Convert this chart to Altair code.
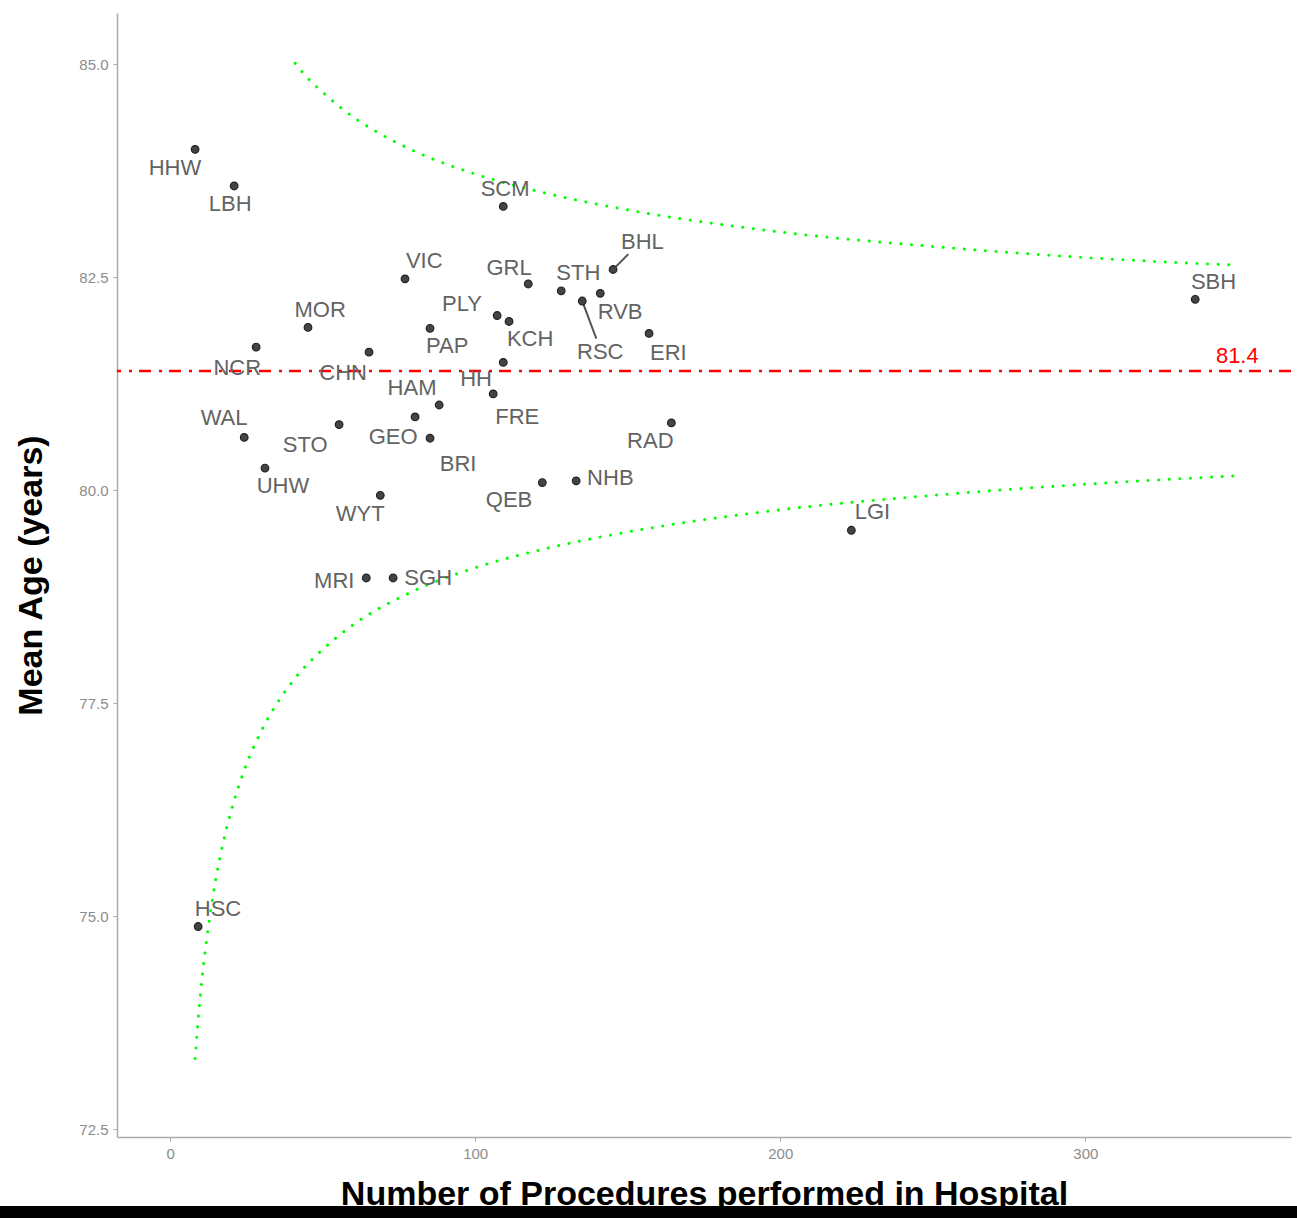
import altair as alt
import pandas as pd

# Hospital codes, procedure counts and mean patient age
codes = ["HHW", "LBH", "SCM", "BHL", "SBH", "VIC", "GRL", "STH", "RVB", "RSC",
         "MOR", "PAP", "PLY", "KCH", "ERI", "NCR", "CHN", "HH", "FRE", "HAM",
         "GEO", "BRI", "STO", "WAL", "RAD", "UHW", "WYT", "QEB", "NHB", "LGI",
         "MRI", "SGH", "HSC"]
procedures = [8.2, 21, 109.2, 145.2, 336, 77, 117.4, 128.2, 141, 135.1,
              45.2, 85.2, 107.2, 111.1, 157, 28.2, 65.2, 109.2, 105.9, 88.2,
              80.3, 85.2, 55.4, 24.3, 164.3, 31.1, 68.9, 122, 133.1, 223.3,
              64.3, 73.1, 9.2]
mean_age = [84.0, 83.57, 83.33, 82.59, 82.24, 82.48, 82.42, 82.34, 82.31, 82.22,
            81.91, 81.90, 82.05, 81.98, 81.84, 81.68, 81.62, 81.50, 81.13, 81.00,
            80.86, 80.61, 80.77, 80.62, 80.79, 80.26, 79.94, 80.09, 80.11, 79.53,
            78.97, 78.97, 74.88]

# Repelled label anchors (data units)
label_x = [1.6, 19.7, 109.8, 154.8, 342, 83.3, 111.1, 133.8, 147.5, 141,
           49.2, 90.8, 95.7, 118, 163.3, 22, 56.7, 100.3, 113.8, 79.3,
           73.1, 94.4, 44.3, 17.7, 157.4, 37, 62.3, 111.1, 144.3, 230.2,
           53.8, 84.6, 15.7]
label_y = [83.78, 83.36, 83.54, 82.91, 82.44, 82.69, 82.61, 82.55, 82.09, 81.62,
           82.12, 81.69, 82.18, 81.77, 81.61, 81.43, 81.38, 81.31, 80.86, 81.20,
           80.63, 80.31, 80.53, 80.85, 80.58, 80.05, 79.72, 79.89, 80.14, 79.75,
           78.93, 78.97, 75.08]

# Leader segments for labels pushed away from their points
seg_x = [145.2, 135.1]
seg_y = [82.59, 82.22]
seg_x2 = [150.2, 139.7]
seg_y2 = [82.77, 81.78]

# Overall mean and control limits
overall_mean = 81.4
upper_n = [41, 45, 50, 60, 70, 80, 100, 125, 150, 200, 250, 300, 350]
upper_lim = [85.01, 84.84, 84.67, 84.38, 84.16, 83.98, 83.71, 83.47, 83.29,
             83.03, 82.86, 82.73, 82.64]
lower_n = [8.2, 9, 10, 11, 12, 13, 15, 17.5, 20, 25, 30, 40, 50, 60, 80, 100,
           125, 150, 200, 250, 300, 350]
lower_lim = [73.33, 73.70, 74.10, 74.44, 74.73, 74.99, 75.44, 75.88, 76.23,
             76.78, 77.18, 77.75, 78.13, 78.42, 78.82, 79.09, 79.33, 79.51,
             79.77, 79.94, 80.07, 80.17]

FONT = "Liberation Sans"
W, H = 1174, 1124

pts = pd.DataFrame({"code": codes, "n": procedures, "age": mean_age,
                    "lx": label_x, "ly": label_y})
segs = pd.DataFrame({"x": seg_x, "y": seg_y, "x2": seg_x2, "y2": seg_y2})
upper = pd.DataFrame({"n": upper_n, "lim": upper_lim})
lower = pd.DataFrame({"n": lower_n, "lim": lower_lim})
mean_df = pd.DataFrame({"m": [overall_mean], "tx": [349.8], "ty": [81.58],
                        "txt": [f"{overall_mean}"]})

xs = alt.Scale(domain=[-17.4, 367.4], nice=False, zero=False)
ys = alt.Scale(domain=[72.41, 85.6], nice=False, zero=False)

x_axis = alt.Axis(values=[0, 100, 200, 300], title="Number of Procedures performed in Hospital",
                  grid=False, titlePadding=16)
y_axis = alt.Axis(values=[72.5, 75.0, 77.5, 80.0, 82.5, 85.0], format=".1f",
                  title="Mean Age (years)", grid=False, titlePadding=30)

points = alt.Chart(pts).mark_point(size=58, filled=False, fill="#444444",
                                   stroke="#222222", strokeWidth=1.2,
                                   shape="circle", opacity=1).encode(
    x=alt.X("n:Q", scale=xs, axis=x_axis),
    y=alt.Y("age:Q", scale=ys, axis=y_axis),
)

labels = alt.Chart(pts).mark_text(font=FONT, fontSize=22, color="#636363",
                                  align="center", baseline="middle").encode(
    x=alt.X("lx:Q", scale=xs), y=alt.Y("ly:Q", scale=ys), text="code:N")

leaders = alt.Chart(segs).mark_rule(color="#555555", strokeWidth=2).encode(
    x=alt.X("x:Q", scale=xs), y=alt.Y("y:Q", scale=ys),
    x2="x2:Q", y2="y2:Q")

dots = dict(color="#00ff00", strokeWidth=3, strokeDash=[0.1, 10.5],
            strokeCap="round", interpolate="monotone")
up_line = alt.Chart(upper).mark_line(**dots).encode(
    x=alt.X("n:Q", scale=xs), y=alt.Y("lim:Q", scale=ys))
low_line = alt.Chart(lower).mark_line(**dots).encode(
    x=alt.X("n:Q", scale=xs), y=alt.Y("lim:Q", scale=ys))

mean_line = alt.Chart(mean_df).mark_rule(color="#ff0000", strokeWidth=2.5,
                                         strokeDash=[12, 7, 3, 8]).encode(
    y=alt.Y("m:Q", scale=ys))
mean_text = alt.Chart(mean_df).mark_text(font=FONT, fontSize=22, color="#ff0000",
                                         align="center", baseline="middle").encode(
    x=alt.X("tx:Q", scale=xs), y=alt.Y("ty:Q", scale=ys), text="txt:N")

bottom_bar = alt.Chart(alt.Data(values=[{}])).mark_rect(color="black").encode(
    x=alt.value(-130), x2=alt.value(W + 20), y=alt.value(1193), y2=alt.value(1215))

chart = alt.layer(up_line, low_line, mean_line, leaders, points, labels,
                  mean_text, bottom_bar).properties(
    width=W, height=H,
    background="white",
    autosize=alt.AutoSizeParams(type="none"),
    padding={"left": 117, "top": 13, "right": 6, "bottom": 81},
).configure_view(strokeWidth=0).configure_axis(
    domainColor="#aaaaaa", domainWidth=1.5,
    tickColor="#aaaaaa", tickSize=4, tickWidth=1,
    labelColor="#8c8c8c", labelFont=FONT, labelFontSize=15, labelPadding=5,
    titleFont=FONT, titleFontSize=34, titleFontWeight="bold", titleColor="black",
)

chart.save("out.html", embed_options={"renderer": "svg", "actions": False})
